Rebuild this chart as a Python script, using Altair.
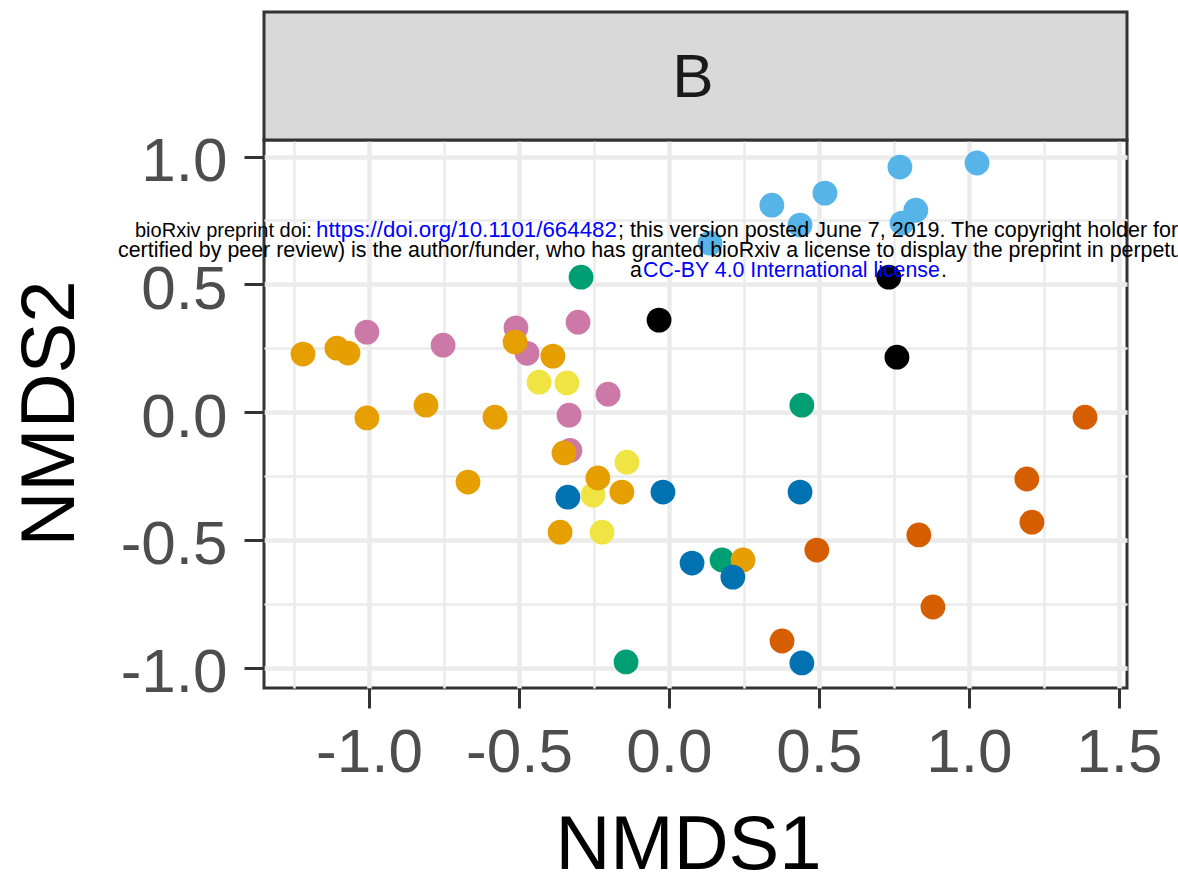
import altair as alt
import pandas as pd

# NMDS ordination scores, one list pair per group (drawn in this order)
group_names = ["G1", "G2", "G3", "G4", "G5", "G6", "G7", "G8"]
group_colors = ["#CC79A7", "#56B4E9", "#000000", "#009E73",
                "#F0E442", "#E69F00", "#0072B2", "#D55E00"]

g1_x = [-1.007, -0.753, -0.51, -0.473, -0.303, -0.203, -0.333, -0.33]
g1_y = [0.313, 0.262, 0.33, 0.23, 0.352, 0.07, -0.012, -0.15]

g2_x = [0.77, 1.027, 0.52, 0.343, 0.437, 0.823, 0.777, 0.137]
g2_y = [0.959, 0.975, 0.857, 0.81, 0.732, 0.79, 0.74, 0.661]

g3_x = [-0.033, 0.733, 0.76]
g3_y = [0.36, 0.528, 0.215]

g4_x = [-0.293, 0.443, 0.177, -0.143]
g4_y = [0.528, 0.027, -0.579, -0.978]

g5_x = [-0.433, -0.34, -0.14, -0.253, -0.223]
g5_y = [0.117, 0.114, -0.196, -0.325, -0.47]

g6_x = [-1.22, -1.107, -1.07, -0.513, -0.387, -0.81, -1.007, -0.58,
        -0.67, -0.35, -0.237, -0.157, -0.363, 0.247]
g6_y = [0.227, 0.25, 0.231, 0.274, 0.219, 0.027, -0.023, -0.02,
        -0.274, -0.16, -0.258, -0.313, -0.47, -0.579]

g7_x = [-0.337, -0.02, 0.077, 0.213, 0.437, 0.443]
g7_y = [-0.333, -0.313, -0.591, -0.646, -0.313, -0.982]

g8_x = [1.387, 1.193, 1.21, 0.833, 0.493, 0.88, 0.377]
g8_y = [-0.02, -0.262, -0.431, -0.481, -0.54, -0.763, -0.896]

x_ticks = [-1.25, -1.0, -0.75, -0.5, -0.25, 0.0, 0.25, 0.5, 0.75, 1.0, 1.25, 1.5]
y_ticks = [-1.0, -0.75, -0.5, -0.25, 0.0, 0.25, 0.5, 0.75, 1.0]

panel_label = "B"

# preprint notice: (text, colour, left offset, font size) per segment
notice_lines = [
    [("bioRxiv preprint doi: ", "#000000", -129, 20),
     ("https://doi.org/10.1101/664482", "#0000FF", 52, 22.3),
     ("; this version posted June 7, 2019. The copyright holder for", "#000000", 354, 21.5)],
    [("certified by peer review) is the author/funder, who has granted bioRxiv "
      "a license to display the preprint in perpetu", "#000000", -146, 21.4)],
    [("a", "#000000", 366, 21.4),
     ("CC-BY 4.0 International license", "#0000FF", 379, 21.3),
     (".", "#000000", 677, 21.4)],
]
notice_baselines = [97, 117, 137]

series = [g1_x, g1_y, g2_x, g2_y, g3_x, g3_y, g4_x, g4_y,
          g5_x, g5_y, g6_x, g6_y, g7_x, g7_y, g8_x, g8_y]
rows = []
for i, name in enumerate(group_names):
    xs, ys = series[2 * i], series[2 * i + 1]
    for x, y in zip(xs, ys):
        rows.append({"group": name, "NMDS1": x, "NMDS2": y})
df = pd.DataFrame(rows)

W, H = 863, 548
FONT = "Liberation Sans"
minor = "abs(datum.value * 4) % 2 == 1"
label_expr = (f"{minor} ? '' : (datum.value < 0 ? '-' : '') + "
              "format(abs(datum.value), '.1f')")


def axis(title, values, title_x, title_y, angle, **kw):
    return alt.Axis(
        title=title,
        values=values,
        labelExpr=label_expr,
        grid=True,
        gridColor="#EBEBEB",
        gridWidth={"condition": {"test": minor, "value": 2.5}, "value": 4.5},
        tickOpacity={"condition": {"test": minor, "value": 0}, "value": 1},
        tickColor="#333333",
        tickWidth=3,
        tickSize=20,
        domain=False,
        labelFont=FONT,
        labelFontSize=62,
        labelColor="#4D4D4D",
        labelFlush=False,
        labelOverlap=False,
        titleFont=FONT,
        titleFontSize=76,
        titleFontWeight="normal",
        titleColor="#000000",
        titleX=title_x,
        titleY=title_y,
        titleAngle=angle,
        titleAlign="center",
        titleBaseline="alphabetic" if angle == 0 else "middle",
        **kw,
    )


points = alt.Chart(df).mark_circle(size=615, opacity=1).encode(
    x=alt.X("NMDS1:Q",
            scale=alt.Scale(domain=[-1.35, 1.527], nice=False, zero=False),
            axis=axis("NMDS1", x_ticks, 424, 180, 0, labelPadding=14)),
    y=alt.Y("NMDS2:Q",
            scale=alt.Scale(domain=[-1.08, 1.065], nice=False, zero=False),
            axis=axis("NMDS2", y_ticks, -214, 273, -90,
                      labelPadding=17, labelOffset=5)),
    color=alt.Color("group:N",
                    scale=alt.Scale(domain=group_names, range=group_colors),
                    legend=None),
)

strip = alt.Chart(pd.DataFrame({"label": [panel_label]})).mark_rect(
    fill="#D9D9D9", stroke="#333333", strokeWidth=3
).encode(
    x=alt.value(0), x2=alt.value(W), y=alt.value(-128), y2=alt.value(0)
)

strip_text = alt.Chart(pd.DataFrame({"label": [panel_label]})).mark_text(
    font=FONT, fontSize=62, color="#1A1A1A", baseline="middle", align="center"
).encode(x=alt.value(429), y=alt.value(-62), text="label:N")

notice_layers = []
for line, base in zip(notice_lines, notice_baselines):
    for text, col, px, fs in line:
        notice_layers.append(
            alt.Chart(pd.DataFrame({"t": [text]})).mark_text(
                font=FONT, fontSize=fs, color=col, align="left",
                baseline="alphabetic"
            ).encode(x=alt.value(px), y=alt.value(base), text="t:N")
        )

chart = alt.layer(strip, strip_text, points, *notice_layers).properties(
    width=W, height=H,
    autosize=alt.AutoSizeParams(type="none"),
    padding={"left": 264, "top": 140, "right": 51, "bottom": 188},
    background="#FFFFFF",
).configure_view(stroke="#333333", strokeWidth=3)

chart.save("out.html", embed_options={"renderer": "svg", "actions": False})
